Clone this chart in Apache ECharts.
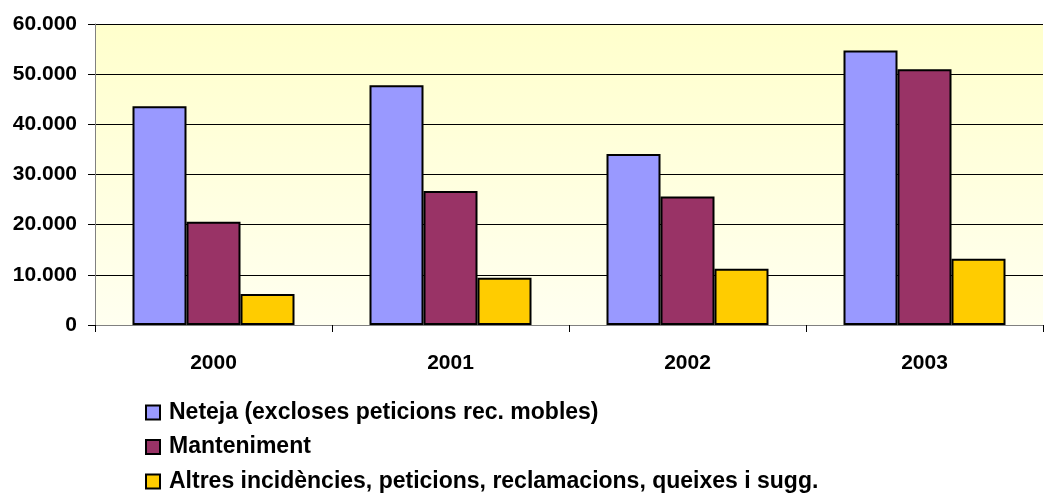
<!DOCTYPE html>
<html><head><meta charset="utf-8">
<script src="https://cdn.jsdelivr.net/npm/echarts@6/dist/echarts.min.js"></script>
<style>html,body{margin:0;padding:0;background:#fff}#c{width:1048px;height:496px}</style>
</head><body><div id="c"></div>
<script>
var categories = ['2000', '2001', '2002', '2003'];
var seriesNames = ['Neteja (excloses peticions rec. mobles)', 'Manteniment', 'Altres incidències, peticions, reclamacions, queixes i sugg.'];
var neteja = [43600, 47800, 34100, 54700];
var manteniment = [20600, 26700, 25600, 51000];
var altres = [6200, 9400, 11200, 13200];
var colors = ['#9999FF', '#993366', '#FFCC00'];

var font = 'Liberation Sans, Arial, sans-serif';
function fmt(v){ return String(v).replace(/\B(?=(\d{3})+(?!\d))/g, '.'); }
var data = [neteja, manteniment, altres];
var chart = echarts.init(document.getElementById('c'), null, {renderer:'canvas'});
chart.setOption({
  animation: false,
  grid: {left: 95, right: 5, top: 24, bottom: 171, show: true, borderWidth: 0,
    backgroundColor: {type:'linear', x:0, y:0, x2:0, y2:1, colorStops:[{offset:0,color:'#FFFFCC'},{offset:1,color:'#FFFFF0'}]}},
  legend: {orient:'vertical', left: 145, top: 401, padding: 0, itemWidth: 14, itemHeight: 14, itemGap: 11.5,
    icon: 'rect',
    textStyle: {fontFamily: font, fontWeight:'bold', fontSize: 23, color:'#000', padding:[0,0,0,4]},
    data: seriesNames},
  xAxis: {type:'category', data: categories,
    axisLine:{lineStyle:{color:'#808080', width:1}},
    axisTick:{show:true, length:7, lineStyle:{color:'#000'}},
    axisLabel:{fontFamily: font, fontWeight:'bold', fontSize: 21, color:'#000', margin: 28}},
  yAxis: {type:'value', min:0, max:60000, interval:10000,
    axisLine:{show:true, lineStyle:{color:'#808080'}},
    axisTick:{show:true, length:7, lineStyle:{color:'#000'}},
    splitLine:{lineStyle:{color:'#000', width:1}},
    axisLabel:{fontFamily: font, fontWeight:'bold', fontSize: 21, color:'#000', margin: 18, formatter: fmt}},
  series: data.map(function(d,i){ return {
    name: seriesNames[i], type:'bar', data: d, barWidth: 54, barGap: '0%',
    itemStyle:{color: colors[i], borderColor:'#000', borderWidth: 2}
  };})
});
</script></body></html>
